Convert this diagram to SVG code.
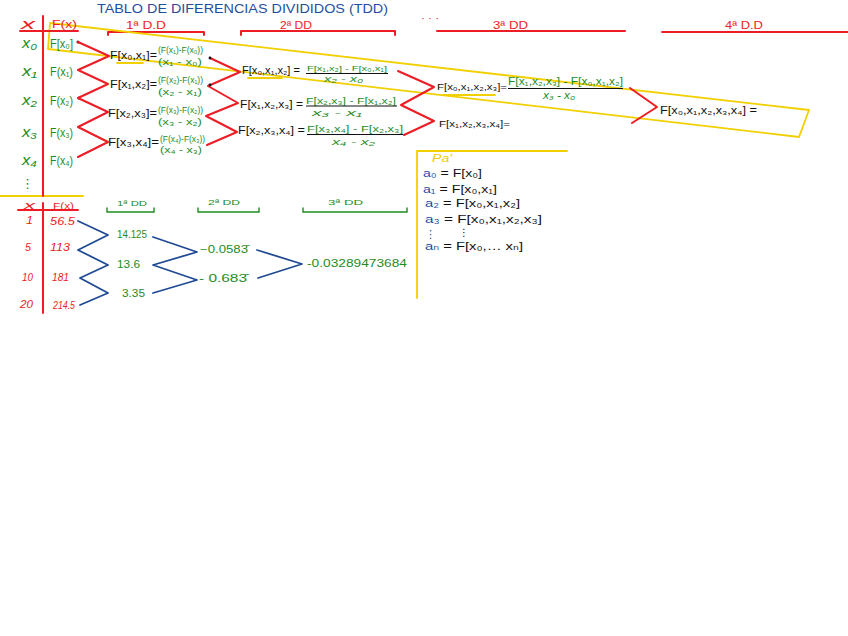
<svg xmlns="http://www.w3.org/2000/svg" width="848" height="636" viewBox="0 0 848 636">
<style>
text{font-family:"Liberation Sans","DejaVu Sans",sans-serif}
.r{fill:#ee1c24}
.g{fill:#1e8c1e}
.k{fill:#111111}
.b{fill:#1f4f9f}
.y{fill:#f0cc00}
.i{font-style:italic}
.rl{stroke:#ee1c24;stroke-width:2;fill:none;stroke-linecap:round;stroke-linejoin:round}
.bl{stroke:#1f4a93;stroke-width:1.8;fill:none;stroke-linecap:round;stroke-linejoin:round}
.yl{stroke:#f2d000;stroke-width:1.8;fill:none;stroke-linecap:round;stroke-linejoin:round}
.gl{stroke:#1e8c1e;stroke-width:1.4;fill:none;stroke-linecap:round}
.kl{stroke:#111111;stroke-width:1.2;fill:none}
</style>
<rect width="848" height="636" fill="#ffffff"/>

<!-- title and headers -->
<g id="title"><text class="b" x="97" y="13" font-size="12" textLength="291" lengthAdjust="spacingAndGlyphs">TABLO DE DIFERENCIAS DIVIDIDOS (TDD)</text></g>
<g id="header-1dd"><text class="r" x="126" y="29" font-size="11" textLength="40" lengthAdjust="spacingAndGlyphs">1ª D.D</text><path class="rl" d="M108,35 V32 H204 V35"/></g>
<g id="header-2dd"><text class="r" x="280" y="29" font-size="11" textLength="32" lengthAdjust="spacingAndGlyphs">2ª DD</text><path class="rl" d="M241,35 V31 H395 V35"/></g>
<g id="header-dots"><text class="r" x="421" y="22" font-size="10" textLength="18" lengthAdjust="spacingAndGlyphs">· · ·</text></g>
<g id="header-3dd"><text class="r" x="493" y="29" font-size="11" textLength="35" lengthAdjust="spacingAndGlyphs">3ª DD</text><path class="rl" d="M437,31 H625"/></g>
<g id="header-4dd"><text class="r" x="725" y="29" font-size="11" textLength="38" lengthAdjust="spacingAndGlyphs">4ª D.D</text><path class="rl" d="M662,32 H848"/></g>

<!-- highlight shapes -->
<g id="highlight">
<path class="yl" d="M50,23 L809,110 L799,137 L48,49 Z"/>
<path class="yl" d="M117,63 H143 M248,78 H282 M443,95 H495 M0,196 H83"/>
</g>

<!-- top table -->
<g id="table-top">
<path class="rl" d="M43,16 V196 M20,31 H78"/>
<text class="r i" x="21" y="29" font-size="14" textLength="14" lengthAdjust="spacingAndGlyphs">x</text>
<text class="r" x="52" y="28" font-size="10" textLength="25" lengthAdjust="spacingAndGlyphs">F(x)</text>
</g>
<g id="row-x0"><text class="g i" x="22" y="48" font-size="14" textLength="15" lengthAdjust="spacingAndGlyphs">x₀</text><text class="g" x="50" y="48" font-size="12" textLength="23" lengthAdjust="spacingAndGlyphs">F[x₀]</text><circle cx="78" cy="42" r="1.5" fill="#111"/></g>
<g id="row-x1"><text class="g i" x="22" y="76" font-size="14" textLength="15" lengthAdjust="spacingAndGlyphs">x₁</text><text class="g" x="50" y="76" font-size="12" textLength="23" lengthAdjust="spacingAndGlyphs">F(x₁)</text></g>
<g id="row-x2"><text class="g i" x="22" y="105" font-size="14" textLength="15" lengthAdjust="spacingAndGlyphs">x₂</text><text class="g" x="50" y="105" font-size="12" textLength="23" lengthAdjust="spacingAndGlyphs">F(x₂)</text><circle cx="79" cy="98" r="1.5" fill="#111"/></g>
<g id="row-x3"><text class="g i" x="22" y="137" font-size="14" textLength="15" lengthAdjust="spacingAndGlyphs">x₃</text><text class="g" x="50" y="137" font-size="12" textLength="23" lengthAdjust="spacingAndGlyphs">F(x₃)</text></g>
<g id="row-x4"><text class="g i" x="22" y="165" font-size="14" textLength="15" lengthAdjust="spacingAndGlyphs">x₄</text><text class="g" x="50" y="165" font-size="12" textLength="23" lengthAdjust="spacingAndGlyphs">F(x₄)</text></g>
<g id="row-dots"><text class="g" x="21" y="188" font-size="13">⋮</text></g>

<!-- connectors -->
<g id="connectors">
<polyline class="rl" points="78,42 109,56 78,70 108,84 78,98 108,112 78,127 108,142 78,157"/>
<polyline class="rl" points="210,58 240,72 208,86 238,103 206,116 237,132 207,145"/>
<polyline class="rl" points="398,71 434,87 401,105 434,121 404,135"/>
<polyline class="rl" points="630,88 657,107 632,123"/>
<polyline class="bl" points="78,221 108,235 78,250 108,265 80,278 108,293 80,305"/>
<polyline class="bl" points="153,237 197,252 153,265 197,280 153,293"/>
<polyline class="bl" points="257,250 302,264 258,278"/>
</g>

<!-- 1st divided differences -->
<g id="dd1-01"><text class="k" x="110" y="59" font-size="11" textLength="47" lengthAdjust="spacingAndGlyphs">F[x₀,x₁]=</text><text class="g" x="158" y="53" font-size="8.5" textLength="45" lengthAdjust="spacingAndGlyphs">(F(x₁)-F(x₀))</text><text class="g" x="158" y="65" font-size="8.5" textLength="44" lengthAdjust="spacingAndGlyphs">(x₁ - x₀)</text><circle cx="210" cy="58" r="1.4" fill="#111"/></g>
<g id="dd1-12"><text class="k" x="110" y="88" font-size="11" textLength="47" lengthAdjust="spacingAndGlyphs">F[x₁,x₂]=</text><text class="g" x="158" y="83" font-size="8.5" textLength="45" lengthAdjust="spacingAndGlyphs">(F(x₂)-F(x₁))</text><text class="g" x="158" y="95" font-size="8.5" textLength="44" lengthAdjust="spacingAndGlyphs">(x₂ - x₁)</text><circle cx="210" cy="85" r="1.4" fill="#111"/></g>
<g id="dd1-23"><text class="k" x="108" y="117" font-size="11" textLength="49" lengthAdjust="spacingAndGlyphs">F[x₂,x₃]=</text><text class="g" x="158" y="113" font-size="8.5" textLength="45" lengthAdjust="spacingAndGlyphs">(F(x₃)-F(x₂))</text><text class="g" x="158" y="125" font-size="8.5" textLength="44" lengthAdjust="spacingAndGlyphs">(x₃ - x₂)</text></g>
<g id="dd1-34"><text class="k" x="108" y="146" font-size="11" textLength="51" lengthAdjust="spacingAndGlyphs">F[x₃,x₄]=</text><text class="g" x="160" y="142" font-size="8.5" textLength="45" lengthAdjust="spacingAndGlyphs">(F(x₄)-F(x₃))</text><text class="g" x="160" y="153" font-size="8.5" textLength="42" lengthAdjust="spacingAndGlyphs">(x₄ - x₃)</text></g>

<!-- 2nd divided differences -->
<g id="dd2-012"><text class="k" x="242" y="74" font-size="10" textLength="58" lengthAdjust="spacingAndGlyphs">F[x₀,x₁,x₂] =</text><text class="g" x="307" y="71" font-size="8" textLength="80" lengthAdjust="spacingAndGlyphs">F[x₁,x₂] - F[x₀,x₁]</text><path class="kl" d="M306,73.5 H388"/><text class="g i" x="324" y="82" font-size="9" textLength="39" lengthAdjust="spacingAndGlyphs">x₂ - x₀</text></g>
<g id="dd2-123"><text class="k" x="240" y="108" font-size="10" textLength="63" lengthAdjust="spacingAndGlyphs">F[x₁,x₂,x₃] =</text><text class="g" x="306" y="104" font-size="9" textLength="90" lengthAdjust="spacingAndGlyphs">F[x₂,x₃] - F[x₁,x₂]</text><path class="kl" d="M306,106 H397"/><text class="g i" x="312" y="116" font-size="9" textLength="50" lengthAdjust="spacingAndGlyphs">x₃ - x₁</text></g>
<g id="dd2-234"><text class="k" x="238" y="134" font-size="10" textLength="67" lengthAdjust="spacingAndGlyphs">F[x₂,x₃,x₄] =</text><text class="g" x="307" y="132" font-size="9" textLength="96" lengthAdjust="spacingAndGlyphs">F[x₃,x₄] - F[x₂,x₃]</text><path class="kl" d="M307,134.5 H403"/><text class="g i" x="332" y="145" font-size="9" textLength="43" lengthAdjust="spacingAndGlyphs">x₄ - x₂</text></g>

<!-- 3rd divided differences -->
<g id="dd3-0123"><text class="k" x="437" y="90" font-size="9" textLength="70" lengthAdjust="spacingAndGlyphs">F[x₀,x₁,x₂,x₃]=</text><text class="g" x="508" y="85" font-size="10" textLength="115" lengthAdjust="spacingAndGlyphs">F[x₁,x₂,x₃] - F[x₀,x₁,x₂]</text><path class="kl" d="M508,88.5 H623"/><text class="g i" x="543" y="99" font-size="10" textLength="32" lengthAdjust="spacingAndGlyphs">x₃ - x₀</text></g>
<g id="dd3-1234"><text class="k" x="439" y="127" font-size="9" textLength="71" lengthAdjust="spacingAndGlyphs">F[x₁,x₂,x₃,x₄]=</text></g>

<!-- 4th divided difference -->
<g id="dd4-01234"><text class="k" x="660" y="114" font-size="10" textLength="97" lengthAdjust="spacingAndGlyphs">F[x₀,x₁,x₂,x₃,x₄] =</text></g>

<!-- bottom numeric table -->
<g id="table-bottom">
<path class="rl" d="M43,203 V313 M18,210 H78"/>
<text class="r i" x="24" y="209" font-size="10" textLength="11" lengthAdjust="spacingAndGlyphs">x</text>
<text class="r" x="53" y="209" font-size="9" textLength="21" lengthAdjust="spacingAndGlyphs">F(x)</text>
</g>
<g id="brow-1"><text class="r i" x="26" y="224" font-size="11" textLength="7" lengthAdjust="spacingAndGlyphs">1</text><text class="r i" x="50" y="225" font-size="11" textLength="25" lengthAdjust="spacingAndGlyphs">56.5</text></g>
<g id="brow-5"><text class="r i" x="25" y="251" font-size="11" textLength="6" lengthAdjust="spacingAndGlyphs">5</text><text class="r i" x="50" y="251" font-size="11" textLength="20" lengthAdjust="spacingAndGlyphs">113</text></g>
<g id="brow-10"><text class="r i" x="22" y="281" font-size="11" textLength="11" lengthAdjust="spacingAndGlyphs">10</text><text class="r i" x="52" y="281" font-size="11" textLength="17" lengthAdjust="spacingAndGlyphs">181</text></g>
<g id="brow-20"><text class="r i" x="20" y="308" font-size="11" textLength="13" lengthAdjust="spacingAndGlyphs">20</text><text class="r i" x="53" y="309" font-size="11" textLength="22" lengthAdjust="spacingAndGlyphs">214.5</text></g>

<g id="bheader-1dd"><text class="g" x="117" y="206" font-size="8" textLength="30" lengthAdjust="spacingAndGlyphs">1ª DD</text><path class="gl" d="M107,208 V212 H154 V208"/></g>
<g id="bheader-2dd"><text class="g" x="208" y="205" font-size="8" textLength="32" lengthAdjust="spacingAndGlyphs">2ª DD</text><path class="gl" d="M198,208 V212 H259 V208"/></g>
<g id="bheader-3dd"><text class="g" x="328" y="205" font-size="8" textLength="35" lengthAdjust="spacingAndGlyphs">3ª DD</text><path class="gl" d="M303,208 V212 H407 V208"/></g>

<g id="b1-a"><text class="g" x="117" y="238" font-size="10" textLength="30" lengthAdjust="spacingAndGlyphs">14.125</text></g>
<g id="b1-b"><text class="g" x="117" y="268" font-size="10" textLength="23" lengthAdjust="spacingAndGlyphs">13.6</text></g>
<g id="b1-c"><text class="g" x="122" y="297" font-size="10" textLength="23" lengthAdjust="spacingAndGlyphs">3.35</text></g>
<g id="b2-a"><text class="g" x="200" y="253" font-size="10" textLength="48" lengthAdjust="spacingAndGlyphs">−0.0583̄</text></g>
<g id="b2-b"><text class="g" x="199" y="282" font-size="10" textLength="48" lengthAdjust="spacingAndGlyphs">- 0.683̄</text></g>
<g id="b3-a"><text class="g" x="307" y="267" font-size="10" textLength="100" lengthAdjust="spacingAndGlyphs">-0.03289473684</text></g>

<!-- Pa' box -->
<g id="pa-box">
<path class="yl" d="M417,298 V151 H567"/>
<text class="y i" x="432" y="162" font-size="11" textLength="20" lengthAdjust="spacingAndGlyphs">Pa'</text>
</g>
<g id="pa-a0"><text x="423" y="177" font-size="11" textLength="59" lengthAdjust="spacingAndGlyphs"><tspan class="b">a₀</tspan><tspan class="k"> = F[x₀]</tspan></text></g>
<g id="pa-a1"><text x="423" y="193" font-size="11" textLength="74" lengthAdjust="spacingAndGlyphs"><tspan class="b">a₁</tspan><tspan class="k"> = F[x₀,x₁]</tspan></text></g>
<g id="pa-a2"><text x="425" y="207" font-size="11" textLength="95" lengthAdjust="spacingAndGlyphs"><tspan class="b">a₂</tspan><tspan class="k"> = F[x₀,x₁,x₂]</tspan></text></g>
<g id="pa-a3"><text x="425" y="223" font-size="11" textLength="117" lengthAdjust="spacingAndGlyphs"><tspan class="b">a₃</tspan><tspan class="k"> = F[x₀,x₁,x₂,x₃]</tspan></text></g>
<g id="pa-dots"><text class="b" x="425" y="238" font-size="11">⋮</text><text class="k" x="459" y="236" font-size="10">⋮</text></g>
<g id="pa-an"><text x="425" y="250" font-size="11" textLength="98" lengthAdjust="spacingAndGlyphs"><tspan class="b">aₙ</tspan><tspan class="k"> = F[x₀,… xₙ]</tspan></text></g>
</svg>
